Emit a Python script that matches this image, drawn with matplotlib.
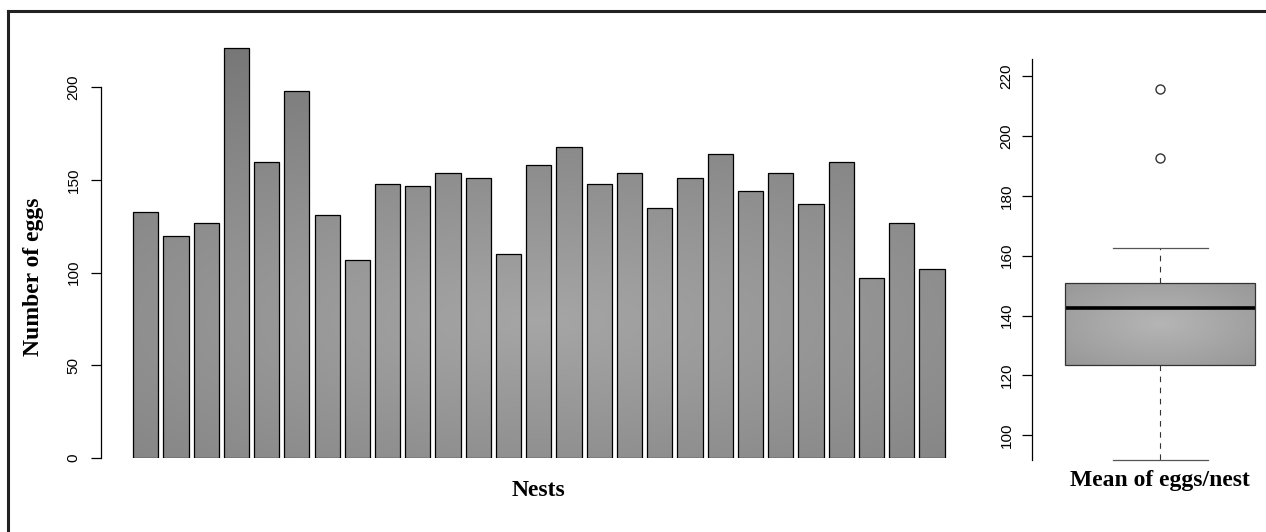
import numpy as np
import matplotlib
matplotlib.use('Agg')
import matplotlib.pyplot as plt
from matplotlib.path import Path
from matplotlib.lines import Line2D

# --- data ---
nest_ids = np.arange(1, 28)
eggs_per_nest = [133, 120, 127, 221, 160, 198, 131, 107, 148, 147, 154, 151, 110, 158,
                 168, 148, 154, 135, 151, 164, 144, 154, 137, 160, 97, 127, 102]
nest_ticks = [0, 50, 100, 150, 200]

# summary for the mean eggs/nest boxplot
box_q1, box_med, box_q3 = 123.5, 142.5, 151.0
box_whislo, box_whishi = 91.7, 162.7
box_fliers = [192.5, 215.8]
box_ticks = [100, 120, 140, 160, 180, 200, 220]

W, H = 1266, 532
fig = plt.figure(figsize=(W / 100, H / 100), dpi=100)
fig.patch.set_facecolor('white')


def px_axes(x0, x1, y0, y1):
    # axes placed by pixel box (y measured from top of figure)
    return fig.add_axes([x0 / W, 1 - y1 / H, (x1 - x0) / W, (y1 - y0) / H])


def radial(nx, ny, cx, cy, rx, ry, c_in, c_out):
    xs = np.linspace(0, 1, nx)
    ys = np.linspace(0, 1, ny)
    X, Y = np.meshgrid(xs, ys)
    r = np.sqrt(((X - cx) / rx) ** 2 + ((Y - cy) / ry) ** 2)
    v = c_in - (c_in - c_out) * np.clip(r, 0, 1.3)
    return np.dstack([v, v, v])


# --- left panel: eggs per nest ---
ax1 = px_axes(101, 961, 31.8, 458)
x = np.arange(len(eggs_per_nest))
bars = ax1.bar(x, eggs_per_nest, width=1 / 1.2, facecolor='none',
               edgecolor='black', linewidth=0.9, zorder=3)
xlim1 = (-1.477, 26.96)
ylim1 = (0, 230)

grad1 = radial(300, 200, 0.51, 0.32, 0.95, 0.68, 0.65, 0.47)
im1 = ax1.imshow(grad1, extent=(*xlim1, *ylim1), origin='lower', aspect='auto',
                 interpolation='bilinear', zorder=2)
bar_paths = [b.get_path().transformed(b.get_patch_transform()) for b in bars]
im1.set_clip_path(Path.make_compound_path(*bar_paths), ax1.transData)
ax1.set_xlim(*xlim1)
ax1.set_ylim(*ylim1)

for s in ['top', 'right', 'bottom']:
    ax1.spines[s].set_visible(False)
ax1.spines['left'].set_bounds(0, 200)
ax1.spines['left'].set_linewidth(0.9)
ax1.set_xticks([])
ax1.set_yticks(nest_ticks)
ax1.set_yticklabels([str(t) for t in nest_ticks], rotation=90, va='center',
                    family='Liberation Sans', fontsize=11)
ax1.tick_params(axis='y', length=7.2, width=0.9, pad=7.5)

# --- right panel: mean eggs/nest ---
ax2 = px_axes(1032, 1266, 40, 470)
stats = [dict(med=box_med, q1=box_q1, q3=box_q3, whislo=box_whislo,
              whishi=box_whishi, fliers=box_fliers)]
bp = ax2.bxp(stats, positions=[1], widths=0.8, patch_artist=True,
             boxprops=dict(facecolor='none', edgecolor='#333333', linewidth=0.9),
             medianprops=dict(color='black', linewidth=2.6, solid_capstyle='butt'),
             whiskerprops=dict(color='#333333', linewidth=0.8, linestyle=(0, (5, 5))),
             capprops=dict(color='#555555', linewidth=0.9),
             capwidths=0.4,
             flierprops=dict(marker='o', markersize=6.5, markerfacecolor='none',
                             markeredgecolor='#333333', markeredgewidth=1.0))
xlim2 = (0.461, 1.446)
ylim2 = (88.4, 232.1)
box_patch = bp['boxes'][0]
box_patch.set_zorder(3)
grad2 = radial(200, 200, 0.5, 0.5, 0.55, 0.55, 0.71, 0.62)
im2 = ax2.imshow(grad2, extent=(0.6, 1.4, box_q1, box_q3), origin='lower',
                 aspect='auto', interpolation='bilinear', zorder=2)
im2.set_clip_path(box_patch)
ax2.set_xlim(*xlim2)
ax2.set_ylim(*ylim2)

for s in ['top', 'right', 'bottom']:
    ax2.spines[s].set_visible(False)
ax2.spines['left'].set_bounds(91.7, 225.6)
ax2.spines['left'].set_linewidth(0.9)
ax2.set_xticks([])
ax2.set_yticks(box_ticks)
ax2.set_yticklabels([str(t) for t in box_ticks], rotation=90, va='center',
                    family='Liberation Sans', fontsize=11)
ax2.tick_params(axis='y', length=7.2, width=0.9, pad=6)

# --- axis titles ---
lab = dict(family='Liberation Serif', fontweight='bold', fontsize=17)
fig.text(39 / W, 1 - 277 / H, 'Number of eggs', rotation=90, rotation_mode='anchor',
         ha='center', va='baseline', **lab)
fig.text(538 / W, 1 - 496 / H, 'Nests', ha='center', va='baseline', **lab)
fig.text(1160 / W, 1 - 486 / H, 'Mean of eggs/nest', ha='center', va='baseline', **lab)

# outer frame (runs off the right and bottom edges)
fig.add_artist(Line2D([8 / W, 1], [1 - 11 / H, 1 - 11 / H], color='#222222', lw=2.2))
fig.add_artist(Line2D([8 / W, 8 / W], [0, 1 - 11 / H], color='#222222', lw=2.2))

fig.savefig('out.png', dpi=100)
